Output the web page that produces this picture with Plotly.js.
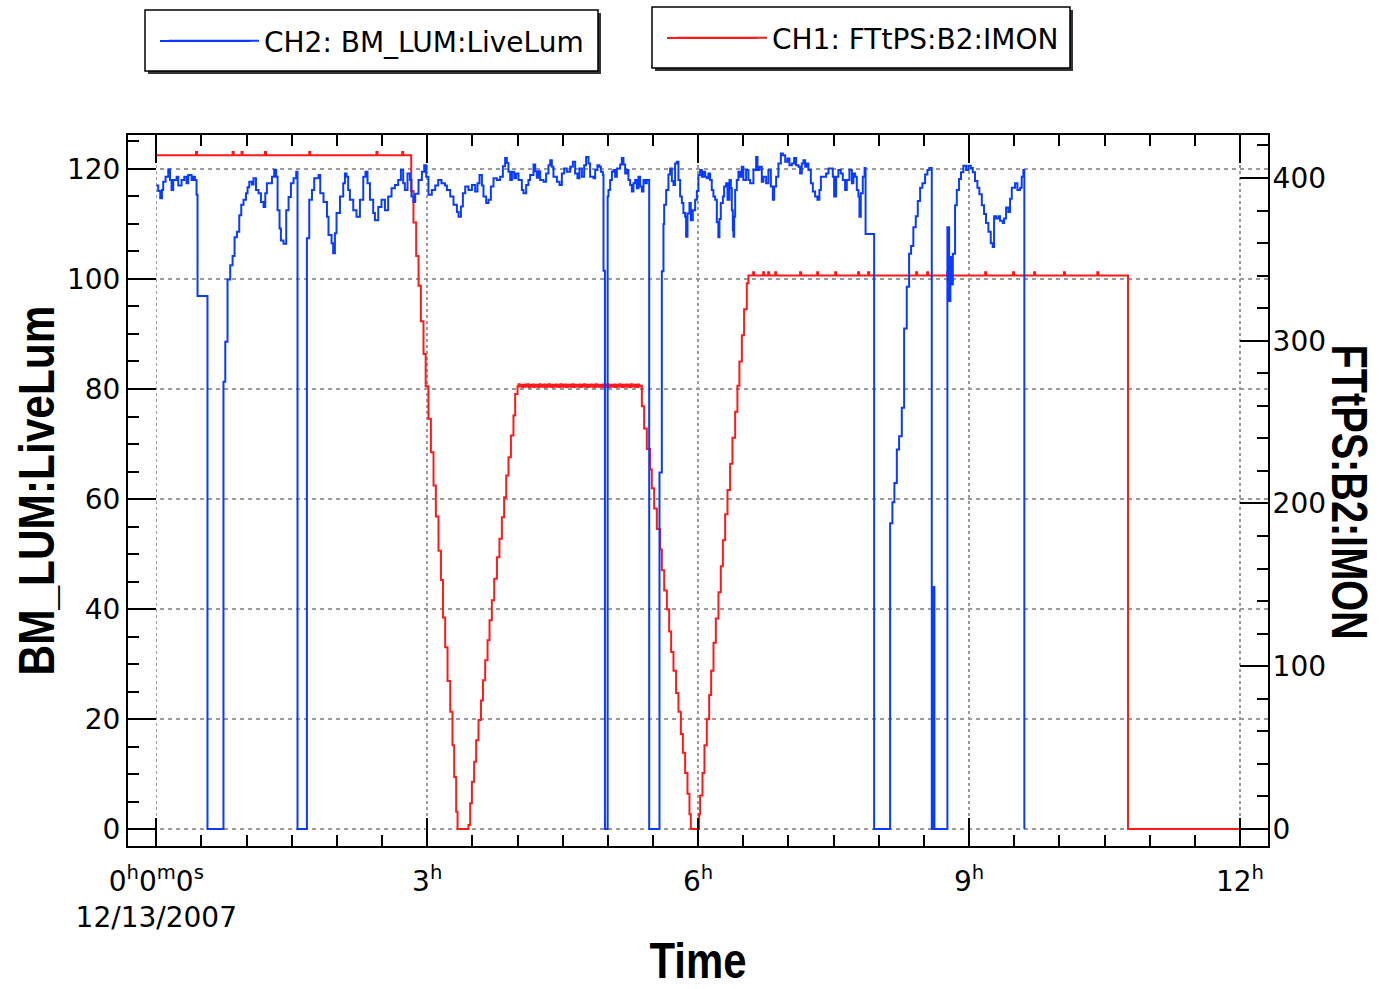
<!DOCTYPE html>
<html>
<head>
<meta charset="utf-8">
<script src="https://cdn.plot.ly/plotly-3.0.1.min.js"></script>
<style>
html,body{margin:0;padding:0;background:#fff;}
#chart{width:1379px;height:989px;}
</style>
</head>
<body>
<div id="chart"></div>
<script>
// ---- DATA (time in hours after 12/13/2007 00:00:00) ----
const lumName = 'CH2: BM_LUM:LiveLum';
const imonName = 'CH1: FTtPS:B2:IMON';

const lumHours = [
0.000,0.022,0.044,0.063,0.077,0.103,0.133,0.152,0.169,0.188,0.225,0.244,0.280,0.310,0.335,0.354,0.391,0.410,0.428,0.446,
0.457,0.567,0.744,0.764,0.789,0.819,0.845,0.867,0.893,0.919,0.941,0.966,0.993,1.011,1.030,1.059,1.077,1.104,1.132,1.159,
1.188,1.207,1.225,1.281,1.306,1.328,1.343,1.365,1.380,1.409,1.439,1.465,1.491,1.520,1.550,1.564,1.668,1.694,1.724,1.749,
1.797,1.816,1.852,1.890,1.907,1.941,1.959,1.978,1.996,2.034,2.070,2.089,2.107,2.125,2.144,2.181,2.217,2.255,2.292,2.317,
2.339,2.366,2.402,2.421,2.458,2.494,2.532,2.568,2.605,2.642,2.679,2.709,2.734,2.753,2.782,2.809,2.826,2.848,2.867,2.904,
2.941,2.967,2.989,3.014,3.051,3.089,3.122,3.158,3.196,3.218,3.255,3.291,3.329,3.347,3.373,3.395,3.421,3.457,3.495,3.531,
3.557,3.579,3.606,3.623,3.653,3.679,3.705,3.734,3.772,3.808,3.838,3.863,3.882,3.900,3.919,3.938,3.963,3.985,4.011,4.048,
4.066,4.096,4.121,4.140,4.177,4.196,4.214,4.232,4.251,4.288,4.317,4.343,4.362,4.380,4.398,4.436,4.465,4.491,4.517,4.546,
4.583,4.613,4.638,4.664,4.686,4.713,4.738,4.760,4.786,4.804,4.841,4.860,4.885,4.907,4.923,4.945,4.952,4.968,4.998,5.007,
5.026,5.045,5.062,5.081,5.100,5.137,5.155,5.173,5.192,5.211,5.228,5.247,5.266,5.284,5.303,5.322,5.339,5.358,5.377,5.395,
5.413,5.432,5.458,5.572,5.598,5.616,5.624,5.646,5.671,5.690,5.709,5.727,5.745,5.764,5.782,5.801,5.820,5.837,5.856,5.867,
5.882,5.904,5.919,5.941,5.967,5.986,6.003,6.022,6.041,6.059,6.078,6.096,6.114,6.133,6.151,6.169,6.188,6.207,6.224,6.236,
6.251,6.274,6.288,6.310,6.325,6.347,6.362,6.373,6.384,6.391,6.399,6.410,6.428,6.446,6.465,6.483,6.501,6.531,6.557,6.576,
6.612,6.642,6.657,6.679,6.705,6.723,6.753,6.778,6.805,6.827,6.842,6.864,6.889,6.916,6.938,6.964,6.989,7.011,7.038,7.063,
7.085,7.111,7.129,7.148,7.166,7.185,7.203,7.221,7.248,7.270,7.295,7.321,7.343,7.359,7.417,7.443,7.491,7.506,7.528,7.553,
7.580,7.602,7.627,7.646,7.675,7.702,7.719,7.738,7.757,7.775,7.786,7.801,7.823,7.843,7.854,7.949,8.126,8.151,8.173,8.200,
8.225,8.255,8.281,8.310,8.336,8.358,8.383,8.410,8.432,8.458,8.483,8.513,8.539,8.561,8.587,8.601,8.616,8.760,8.779,8.793,
8.804,8.820,8.845,8.864,8.889,8.911,8.937,8.967,8.992,9.019,9.041,9.066,9.092,9.114,9.141,9.166,9.188,9.214,9.240,9.262,
9.277,9.299,9.325,9.343,9.373,9.388,9.410,9.435,9.454,9.473,9.509,9.535,9.565,9.583,9.601,9.612
];
const lumValues = [
117,116,114.7,116.2,117.7,118.6,119.9,118,116.2,118,118.6,117,118,118.6,117.4,118.9,118,118.6,118,115.3,
96.9,0,81.3,88.6,99.9,102.5,104.2,107.6,108.6,111.6,113.5,114.4,115.6,116.7,117.7,117.2,118.3,116.2,115.6,114,
113.1,115.6,117.4,118.6,119.8,118.6,112.5,109.2,107,106.4,112.5,114.9,117.4,118.3,119.5,0,107.4,114.4,116.2,118.3,
118.9,115.6,114,111.3,108,106.5,104.7,108.3,112,115,117.4,119.2,118.6,116.2,114.4,112.5,111.3,114.4,118.6,119.5,
117.4,114.4,112,110.7,113.1,114.4,112.5,115,116.5,117.1,118,119.8,117.4,116.2,119.2,118,115,114,115.5,118,
119.5,120.7,118.6,115.3,116.2,117,118,117.4,117,116.2,115,113.5,112.2,111.3,113.2,115.6,116.8,116.2,117.1,115.9,
117.4,118.9,117,115,113.8,114.4,116.8,118.3,118,118.6,120.5,122,121.1,119.5,118,119.5,118.3,119.2,118,116.2,
115.6,117.1,118,118.9,120.8,119.6,118.4,119.6,118,117.7,119.2,120.7,121.6,120.4,118.6,117.7,117.1,119.2,120.1,119.5,
120.4,121.3,119.2,118.3,120.1,118.6,120.7,122.2,121,118.6,118.3,119.8,120.7,120.4,119.5,118.9,101.5,0,115,116.2,
118,119.5,119.8,118.6,120.1,120.8,122,120.8,119.2,119.8,118,117.1,115.9,117.4,118,116.5,118.6,116.8,115.9,118,
117.4,118,0,64.8,101.4,110,113.5,116.2,119,120.1,117.8,117.1,121,121.3,118,115,113.8,112,111.3,107.7,
111.9,113.8,110.7,112.5,114.4,116,118.9,119.8,118.6,119.5,118.6,118.3,119.2,118,116.2,115,114.4,110.3,107.6,110.9,
113.8,115,116.8,117.4,114.4,118,116.5,112.5,108.9,107.7,111.3,116.2,118,119.5,118.6,120.4,118,119.8,118,117.4,
119.8,122.2,119.8,120.4,117.7,118.6,117.4,119.8,116.8,114.4,116.8,118.6,121,122.8,122.5,121.3,121.9,120.7,121,122,
120.7,120.4,119.2,121,121.6,120.4,121,119.8,117.4,115.9,115,114.4,116.2,118.6,119.2,120.1,118.6,115,118.6,119.8,
119.2,118,116.2,118,119.8,117.4,119.2,118.6,116.2,115,111.3,115.6,118.6,120.2,108.2,0,55.6,59.4,62.9,69,
71.4,76.6,91,98.6,104.6,106,109.4,111.4,114.2,116.6,117.4,119,119.8,120.2,0,44,0,109.4,96,104,
99,104.6,113.4,116.2,118.2,119.4,120.6,119.8,120.6,120.2,119.4,117.8,116.6,115.4,113.4,111.8,110.2,108.6,106.5,105.8,
111.4,111,111.4,110.6,110.2,111,113,112.2,114.6,116.6,117.4,116.2,116.6,118.6,119.8,0
];

const imonHours = [
0.000,0.440,0.452,0.845,0.857,0.944,0.956,1.203,1.215,1.694,1.706,2.438,2.450,2.723,2.735,
2.823,2.848,2.878,2.904,2.930,2.959,2.983,3.014,3.041,3.070,3.096,3.125,3.152,3.174,3.199,3.225,3.255,3.280,3.299,3.321,3.336,
3.457,3.476,3.495,3.520,3.542,3.568,3.595,3.617,3.642,3.668,3.690,3.716,3.742,3.772,3.800,3.827,3.852,3.875,3.900,3.927,3.955,3.974,4.000,
4.012,4.024,4.037,4.049,4.063,4.074,4.088,4.101,4.113,4.127,4.139,4.152,4.166,4.178,4.190,4.204,4.217,4.229,4.243,4.256,
4.268,4.281,4.295,4.307,4.320,4.334,4.346,4.359,4.372,4.385,4.398,4.411,4.424,4.437,4.450,4.463,4.476,4.489,4.502,4.515,
4.528,4.541,4.554,4.567,4.580,4.593,4.606,4.619,4.632,4.645,4.658,4.671,4.684,4.697,4.710,4.723,4.736,4.749,4.762,4.775,
4.788,4.801,4.814,4.827,4.840,4.853,4.866,4.879,4.892,4.905,4.918,4.931,4.944,4.957,4.970,4.983,4.996,5.009,5.022,5.035,
5.048,5.061,5.074,5.087,5.100,5.113,5.126,5.139,5.152,5.165,5.178,5.191,5.204,5.217,5.230,5.243,5.256,5.269,5.282,5.295,
5.308,5.321,5.334,5.347,5.360,
5.377,5.402,5.432,5.468,5.487,5.513,5.543,5.580,5.598,5.624,5.654,5.679,5.701,5.727,5.756,5.782,5.809,5.831,5.856,5.882,5.904,5.919,
6.011,6.022,6.048,6.070,6.096,6.122,6.144,6.170,6.196,6.225,6.251,6.274,6.299,6.325,6.354,6.380,6.410,6.435,6.457,6.484,6.509,6.539,6.557,
6.609,6.621,6.720,6.732,6.775,6.787,6.853,6.865,7.129,7.141,7.318,7.330,7.517,7.529,7.771,7.783,7.882,7.894,
8.413,8.425,8.535,8.547,8.757,8.769,9.178,9.190,9.487,9.499,9.720,9.732,10.050,10.062,10.420,10.432,
10.760,12.000
];
const imonValues = [
414,416,414,416,414,416,414,416,414,416,414,416,414,416,414,
392,372.6,352,333.7,312,291.8,272,252,231.5,211,192,171,153,130,111.7,91,72,51.5,32,10.6,0,
2.5,15.8,29,41.3,54.6,66.9,79,91.4,103.7,116,128.2,140.5,153.8,167,178.3,191.6,203.9,217.2,228.4,241.7,254,267.3,272,
273.2,271.8,273,271.6,272.9,271.7,273.1,271.9,273.2,271.6,272.8,271.8,273.1,271.6,273,271.9,272.8,271.6,273.2,271.8,
273,271.7,273.1,271.6,272.9,271.8,273.2,271.7,273,271.6,272.8,271.9,273.1,271.7,273,271.6,273.2,271.8,272.9,271.7,
273.1,271.6,273,271.8,272.9,271.7,273.2,271.6,273,271.9,272.8,271.7,273.1,271.6,273,271.8,273.2,271.7,272.9,271.6,
273,271.8,273.1,271.7,272.9,271.6,273.2,271.8,273,271.7,272.8,271.6,273.1,271.9,273,271.7,273.2,271.6,272.9,271.8,
273,271.7,273.1,271.6,272.8,271.8,273.2,271.7,273,271.6,272.9,271.8,273.1,271.7,273,271.6,273.2,271.8,272.9,271.7,
273,271.6,273.1,271.8,272.4,
259.8,246,233.5,220.9,209.4,196.9,184.3,171.7,159,146.5,135,121.3,108.7,97.3,83.6,72.1,58.3,46.9,34.4,21.7,9.1,0,
9,20.6,34.4,51.5,67.5,82.4,97.3,114.5,129.3,145.4,161.4,177.4,193.4,208.3,224.4,240.4,256.4,272.4,287.3,303.3,319.3,335.3,340,
342,340,342,340,342,340,342,340,342,340,342,340,342,340,342,340,342,340,
342,340,342,340,342,340,342,340,342,340,342,340,342,340,342,340,
0,0
];

const timeTickVals = [0, 3, 6, 9, 12];
const timeTickText = ['0<sup>h</sup>0<sup>m</sup>0<sup>s</sup><br>12/13/2007', '3<sup>h</sup>', '6<sup>h</sup>', '9<sup>h</sup>', '12<sup>h</sup>'];

// ---- STYLE ----
const PL = 128, PR = 1268, PT = 135, PB = 846;
const px2x = p => (p - PL) / (PR - PL);
const py2y = p => (PB - p) / (PB - PT);

const tickFont = {family: 'DejaVu Sans, sans-serif', size: 28, color: '#000'};
const titleFont = {family: 'Liberation Sans, Arial, sans-serif', size: 50, color: '#000', weight: 700};
const legendFont = {family: 'DejaVu Sans, sans-serif', size: 28, color: '#000'};
const BLUE = '#0a3cff', RED = '#ff1a1a';

const traces = [
  {x: imonHours, y: imonValues, name: imonName, type: 'scatter', mode: 'lines',
   line: {color: RED, width: 2, shape: 'hv'}, yaxis: 'y', legend: 'legend2', hoverinfo: 'x+y'},
  {x: lumHours, y: lumValues, name: lumName, type: 'scatter', mode: 'lines',
   line: {color: BLUE, width: 2, shape: 'hv'}, yaxis: 'y2', legend: 'legend', hoverinfo: 'x+y'}
];

const minorCommon = {ticks: 'inside', ticklen: 11, tickwidth: 2, tickcolor: '#000', showgrid: false};

function legendBox(x0, y0, x1, y1, color, lx0, lx1, ly) {
  return [
    {type: 'rect', xref: 'paper', yref: 'paper', x0: px2x(x0 + 3), x1: px2x(x1 + 3), y0: py2y(y0 + 3), y1: py2y(y1 + 3),
     fillcolor: '#333', line: {width: 0}, layer: 'above'},
    {type: 'rect', xref: 'paper', yref: 'paper', x0: px2x(x0), x1: px2x(x1), y0: py2y(y0), y1: py2y(y1),
     fillcolor: '#fff', line: {color: '#000', width: 1.5}, layer: 'above'},
    {type: 'line', xref: 'paper', yref: 'paper', x0: px2x(lx0), x1: px2x(lx1), y0: py2y(ly), y1: py2y(ly),
     line: {color: color, width: 2}, layer: 'above'}
  ];
}

const layout = {
  width: 1379, height: 989, autosize: false,
  margin: {l: PL, r: 1379 - PR, t: PT, b: 989 - PB, pad: 0},
  paper_bgcolor: '#fff', plot_bgcolor: '#fff',
  showlegend: true,
  legend: {x: px2x(164), y: py2y(41), xanchor: 'left', yanchor: 'middle', bgcolor: 'rgba(0,0,0,0)',
           borderwidth: 0, font: legendFont, itemwidth: 90, orientation: 'h'},
  legend2: {x: px2x(672), y: py2y(38), xanchor: 'left', yanchor: 'middle', bgcolor: 'rgba(0,0,0,0)',
            borderwidth: 0, font: legendFont, itemwidth: 90, orientation: 'h'},
  xaxis: {
    range: [-0.313, 12.31], tickmode: 'array', tickvals: timeTickVals, ticktext: timeTickText,
    ticks: 'inside', ticklen: 28, tickwidth: 2, tickcolor: '#000',
    showline: true, linecolor: '#000', linewidth: 2, mirror: 'ticks',
    showgrid: true, gridcolor: '#9a9a9a', gridwidth: 1.5, griddash: '3px,3px', zeroline: false,
    minor: Object.assign({tickmode: 'linear', tick0: 0, dtick: 0.5}, minorCommon),
    tickfont: tickFont, ticklabelstandoff: 9,
    title: {text: 'Time', font: titleFont, standoff: 15}
  },
  yaxis: {
    range: [-10.45, 426.4], side: 'right', tickmode: 'linear', tick0: 0, dtick: 100,
    ticks: 'inside', ticklen: 28, tickwidth: 2, tickcolor: '#000',
    showline: true, linecolor: '#000', linewidth: 2, mirror: false,
    showgrid: false, zeroline: false,
    minor: Object.assign({tickmode: 'linear', tick0: 0, dtick: 20}, minorCommon),
    tickfont: tickFont, ticklabelstandoff: -3
  },
  yaxis2: {
    overlaying: 'y', side: 'left', range: [-3.09, 126.18], tickmode: 'linear', tick0: 0, dtick: 20,
    ticks: 'inside', ticklen: 28, tickwidth: 2, tickcolor: '#000',
    showline: true, linecolor: '#000', linewidth: 2, mirror: false,
    showgrid: true, gridcolor: '#9a9a9a', gridwidth: 1.5, griddash: '4px,4px', zeroline: false,
    minor: Object.assign({tickmode: 'linear', tick0: 0, dtick: 5}, minorCommon),
    tickfont: tickFont, ticklabelstandoff: 0,
    title: {text: 'BM_LUM:LiveLum', font: titleFont, standoff: 4}
  },
  shapes: [].concat(
    legendBox(145, 10, 598, 71, BLUE, 160, 250, 41),
    legendBox(652, 7, 1070, 68, RED, 667, 757, 38)
  ),
  annotations: [
    {text: 'FTtPS:B2:IMON', xref: 'paper', yref: 'paper', x: px2x(1349), y: py2y(492),
     xanchor: 'center', yanchor: 'middle', textangle: 90, showarrow: false, font: titleFont}
  ]
};

function squeeze(gd, selector, len) {
  const el = gd.querySelector(selector);
  if (el) {
    el.setAttribute('textLength', len);
    el.setAttribute('lengthAdjust', 'spacingAndGlyphs');
  }
}
function nudge(gd, selector, dx, dy) {
  const el = gd.querySelector(selector);
  if (el) el.setAttribute('transform', 'translate(' + dx + ',' + dy + ')');
}

Plotly.newPlot('chart', traces, layout, {displayModeBar: false, staticPlot: true}).then(gd => {
  squeeze(gd, '.g-xtitle text', 97);
  squeeze(gd, '.g-y2title text', 370);
  squeeze(gd, '.annotation-text', 295);
  nudge(gd, '.g-y2title', 8, 0);
});
</script>
</body>
</html>
